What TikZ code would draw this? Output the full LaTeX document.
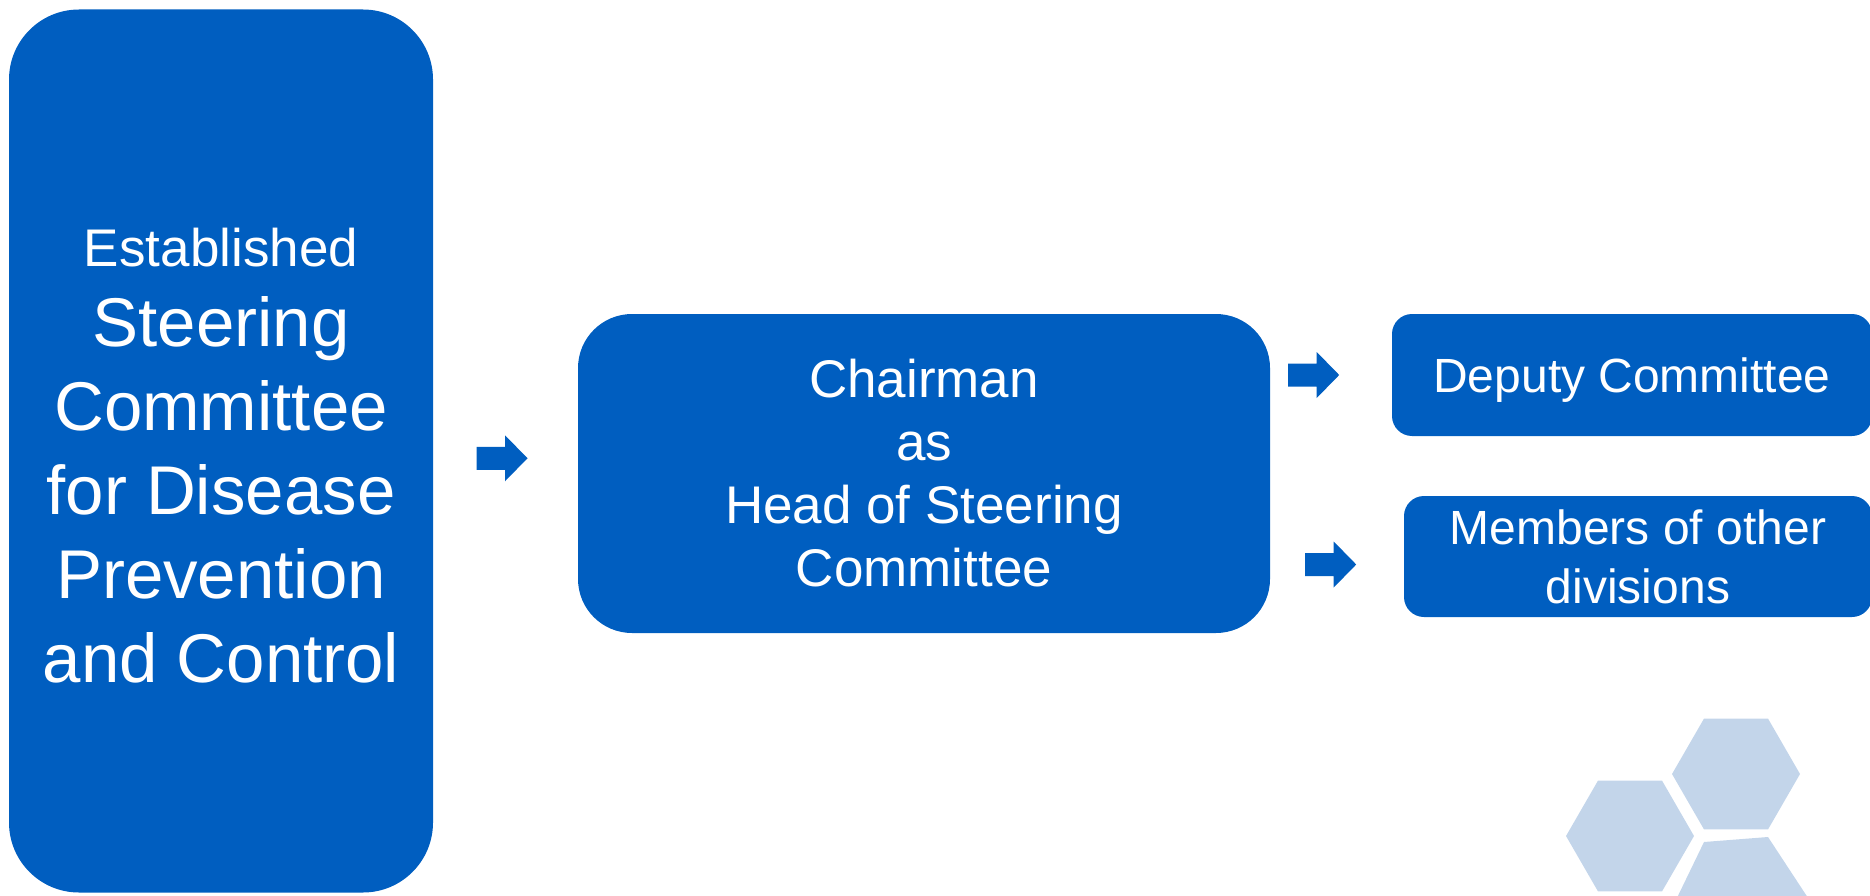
\documentclass[tikz,border=0pt]{standalone}
\usepackage{fontspec}
\setmainfont{Liberation Sans}
\usepackage{tikz}
\usetikzlibrary{calc}
\definecolor{boxblue}{RGB}{0,94,192}
\definecolor{hexblue}{RGB}{195,213,234}

\begin{document}
\begin{tikzpicture}[
  x=1pt, y=-1pt,
  bx/.style={rectangle, fill=boxblue, text=white, align=center, inner sep=0pt},
  sm/.style={bx, rounded corners=20pt, font=\fontsize{48}{59}\selectfont},
  arr/.pic={\fill[boxblue] (-28.5,-11.5) -- (0,-11.5) -- (0,-23) -- (22.5,0) -- (0,23) -- (0,11.5) -- (-28.5,11.5) -- cycle;},
  hex/.pic={\fill[hexblue] (0:64) -- (60:64) -- (120:64) -- (180:64) -- (240:64) -- (300:64) -- cycle;}]
\useasboundingbox (0,0) rectangle (1870,896);
% boxes
\node[bx, minimum width=424pt, minimum height=883pt, rounded corners=70pt,
  font=\fontsize{69}{84}\selectfont] (est) at (221,451)
  {{\fontsize{53}{64}\selectfont\rule{0pt}{47pt}Established}\\[-4pt] Steering\\ Committee\\ for Disease\\ Prevention\\ and Control};
\node[bx, minimum width=692pt, minimum height=319pt, rounded corners=54pt,
  font=\fontsize{53}{63}\selectfont] (chair) at (924,473.5)
  {Chairman\\ as\\ Head of Steering\\ Committee};
\node[sm, minimum width=480pt, minimum height=122pt, text depth=0pt] (dep) at (1632,375) {Deputy Committee};
\node[sm, minimum width=468pt, minimum height=121pt] (mem) at (1638,556.5) {Members of other\\ divisions};
% block arrows between the boxes
\pic at ($(est.east)!.5!(chair.west)+(-0.5,-4)$) {arr};
\pic at ($(chair.east |- dep)+(46.5,0)$) {arr};
\pic at ($(chair.east |- mem)+(63.5,8)$) {arr};
% hexagons
\pic at (1736,774) {hex};
\pic at (1630,836) {hex};
\begin{scope}
\clip (0,0) rectangle (1870,896);
\fill[hexblue] (1704,842) -- (1768,837) -- (1812,904) -- (1674,904) -- cycle;
\end{scope}
\end{tikzpicture}
\end{document}
